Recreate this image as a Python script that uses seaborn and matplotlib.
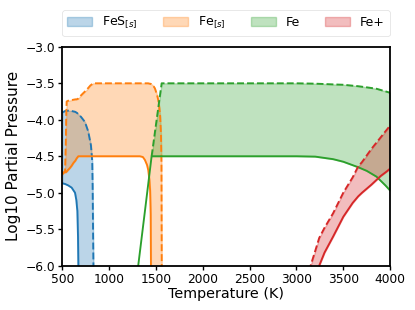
import numpy as np
import matplotlib
matplotlib.use("Agg")
import matplotlib.pyplot as plt
import seaborn as sns

# ---------------- data ----------------
species = ["FeS$_{[s]}$", "Fe$_{[s]}$", "Fe", "Fe+"]

T_fes = [500, 530, 564, 600, 636, 650, 661, 668, 672, 676, 700, 742, 777, 806, 820, 824, 828, 833]
lo_fes = [-4.87, -4.88, -4.90, -4.93, -5.0, -5.1, -5.25, -5.6, -6.05, -7, -7, -7, -7, -7, -7, -7, -7, -7]
hi_fes = [-3.90, -3.88, -3.875, -3.88, -3.89, -3.90, -3.91, -3.92, -3.925, -3.93, -3.96, -4.03, -4.16, -4.35, -4.57, -4.89, -5.4, -6.05]

T_fe_s = [500, 530, 538, 543, 547, 560, 582, 600, 620, 640, 653, 671, 689, 720, 760, 800, 831,
          1329, 1360, 1382, 1405, 1418, 1430, 1438, 1444, 1447, 1450, 1470, 1489, 1510, 1525, 1537, 1545, 1554, 1559, 1562]
lo_fe_s = [-4.73, -4.72, -4.72, -4.71, -4.71, -4.69, -4.66, -4.63, -4.59, -4.56, -4.53, -4.5, -4.5, -4.5, -4.5, -4.5, -4.5,
           -4.5, -4.51, -4.55, -4.62, -4.69, -4.82, -4.97, -5.3, -6.05, -7, -7, -7, -7, -7, -7, -7, -7, -7, -7]
hi_fe_s = [-4.75, -4.7, -4.3, -3.9, -3.75, -3.74, -3.735, -3.73, -3.725, -3.72, -3.72, -3.71, -3.68, -3.64, -3.59, -3.53, -3.5,
           -3.5, -3.5, -3.5, -3.5, -3.5, -3.505, -3.505, -3.51, -3.51, -3.51, -3.53, -3.57, -3.65, -3.73, -3.84, -3.95, -4.2, -4.6, -6.05]

T_fe = [1290, 1311, 1380, 1454, 1500, 1561, 2000, 2500, 3000, 3200, 3392, 3500, 3659, 3750, 3855, 3950, 4000]
lo_fe = [-6.15, -6.0, -5.28, -4.5, -4.5, -4.5, -4.5, -4.5, -4.5, -4.505, -4.54, -4.575, -4.65, -4.7, -4.78, -4.9, -4.97]
hi_fe = [np.nan, np.nan, np.nan, -4.5, -4.07, -3.5, -3.5, -3.5, -3.5, -3.505, -3.515, -3.52, -3.54, -3.555, -3.575, -3.61, -3.63]

T_fep = [3100, 3151, 3200, 3243, 3300, 3392, 3500, 3600, 3659, 3700, 3800, 3900, 3962, 4000]
lo_fep = [-7, -7, -7, -6.0, -5.82, -5.6, -5.33, -5.14, -5.05, -5.0, -4.89, -4.77, -4.71, -4.67]
hi_fep = [-7, -6.0, -5.8, -5.62, -5.48, -5.28, -5.0, -4.79, -4.64, -4.58, -4.4, -4.24, -4.14, -4.08]

xticks = [500, 1000, 1500, 2000, 2500, 3000, 3500, 4000]
yticks = [-6.0, -5.5, -5.0, -4.5, -4.0, -3.5, -3.0]

# ---------------- style ----------------
sns.set_style("ticks")
plt.rcParams["font.family"] = ["DejaVu Sans"]
plt.rcParams["axes.edgecolor"] = "black"
plt.rcParams["xtick.color"] = "black"
plt.rcParams["ytick.color"] = "black"
plt.rcParams["text.color"] = "black"
plt.rcParams["axes.labelcolor"] = "black"

colors = sns.color_palette("tab10")[:4]

fig = plt.figure(figsize=(4.15, 3.10), dpi=100)
ax = fig.add_axes([0.150, 0.143, 0.790, 0.706])

groups = [
    (T_fes, lo_fes, hi_fes),
    (T_fe_s, lo_fe_s, hi_fe_s),
    (T_fe, lo_fe, hi_fe),
    (T_fep, lo_fep, hi_fep),
]

lw = 1.35
for (T, lo, hi), c, name in zip(groups, colors, species):
    T = np.asarray(T, float)
    lo = np.asarray(lo, float)
    hi = np.asarray(hi, float)
    ax.fill_between(T, lo, hi, color=c, alpha=0.3, label=name, linewidth=1.0)

for (T, lo, hi), c in zip(groups, colors):
    sns.lineplot(x=T, y=lo, ax=ax, color=c, lw=lw, estimator=None, sort=False, legend=False)
    sns.lineplot(x=T, y=hi, ax=ax, color=c, lw=lw, ls="--", estimator=None, sort=False, legend=False)

ax.set_xlim(500, 4000)
ax.set_ylim(-6.0, -3.0)
ax.set_xticks(xticks)
ax.set_yticks(yticks)
ax.set_xticklabels([str(t) for t in xticks])
ax.set_yticklabels([f"{t:.1f}".replace("-", "\u2212") for t in yticks])
ax.tick_params(labelsize=8.8, length=3.0, width=1.0, pad=2)
for s in ax.spines.values():
    s.set_linewidth(1.3)
    s.set_color("black")

ax.set_xlabel("Temperature (K)", fontsize=10.4, labelpad=1)
ax.set_ylabel("Log10 Partial Pressure", fontsize=11.0, labelpad=3)

leg = ax.legend(loc="lower center", bbox_to_anchor=(0.5, 1.02), ncol=4, fontsize=9,
                frameon=True, handlelength=2.0, columnspacing=2.0, borderpad=0.4,
                handletextpad=0.8)
leg.get_frame().set_edgecolor("#dddddd")
leg.get_frame().set_linewidth(0.6)

fig.savefig("out.png", dpi=100)
